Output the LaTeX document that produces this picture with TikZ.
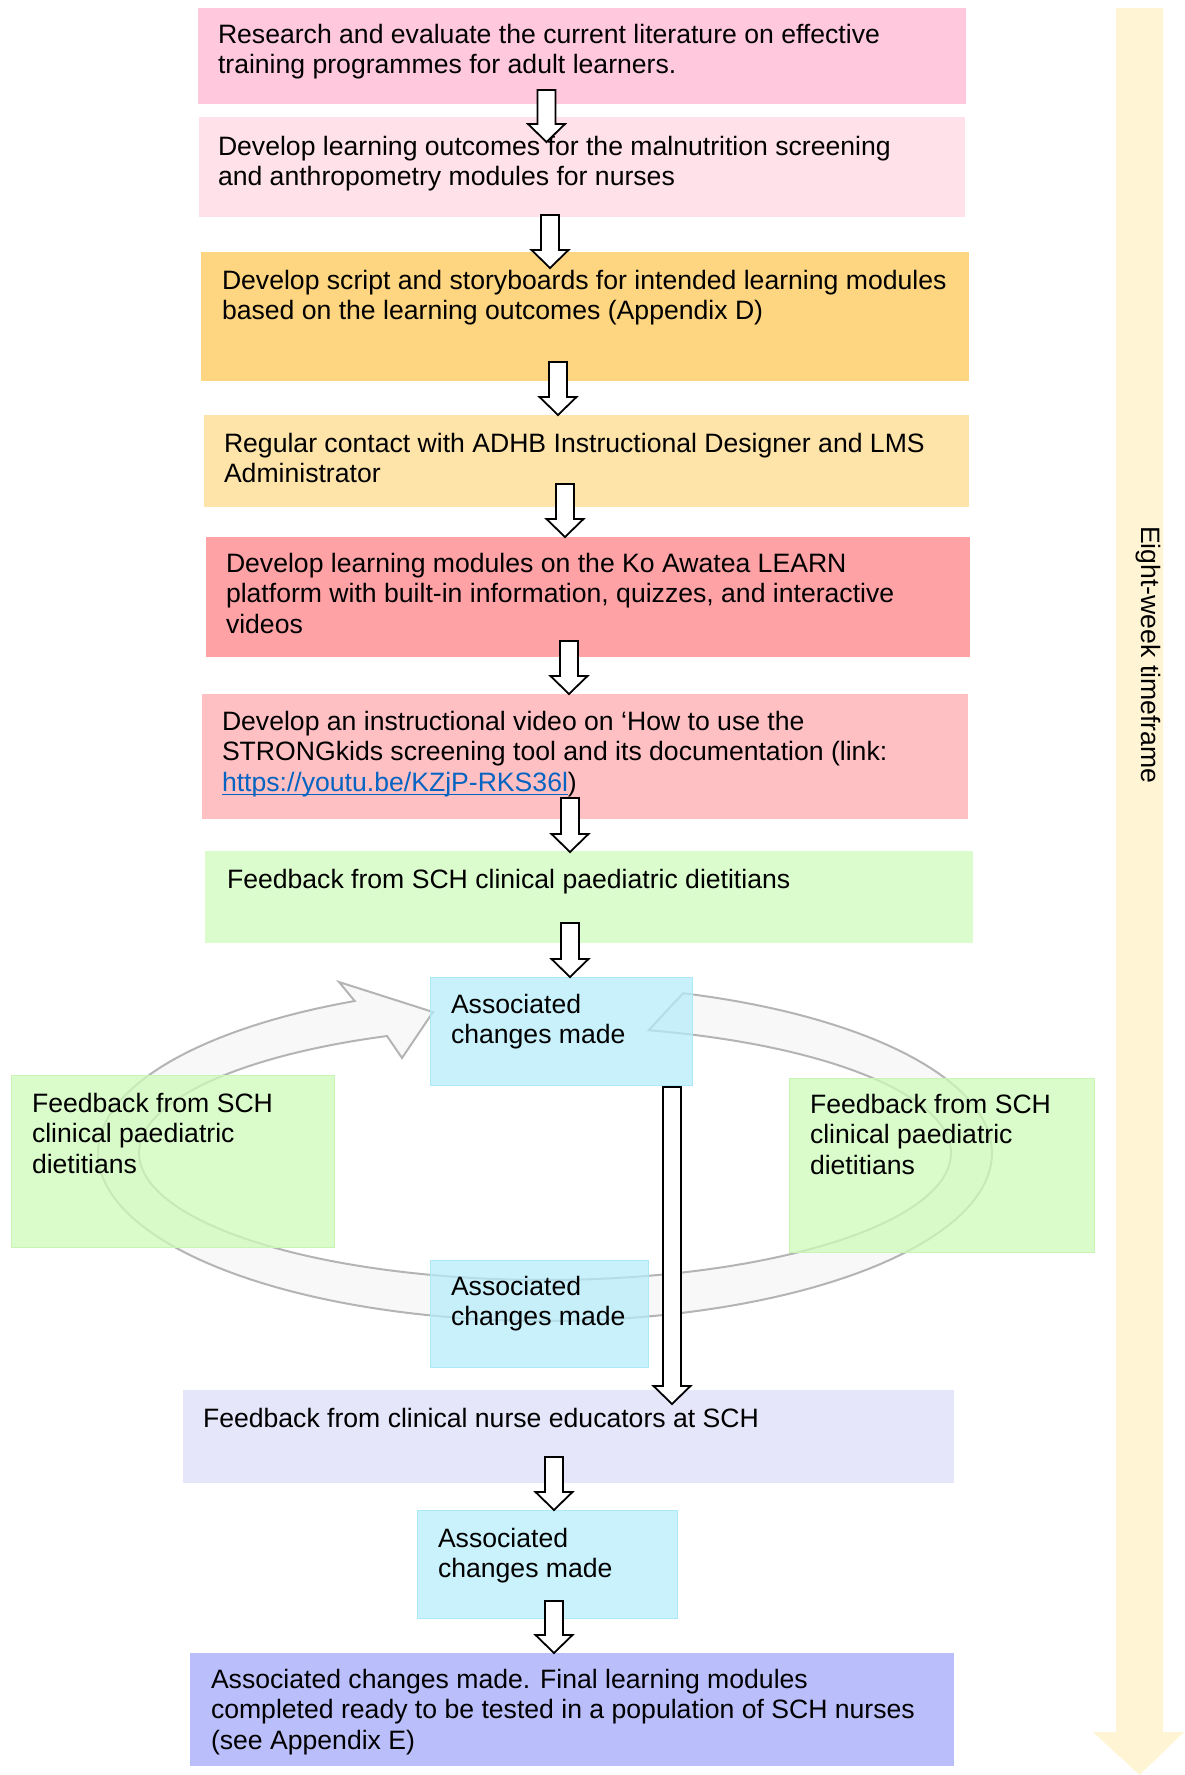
\documentclass[tikz,border=0pt]{standalone}
\usepackage{fontspec}
\setmainfont{Liberation Sans}
\usetikzlibrary{calc}

% box fills
\definecolor{cResearch}{HTML}{FFC8DC}
\definecolor{cOutcomes}{HTML}{FFE1EA}
\definecolor{cScript}{HTML}{FED580}
\definecolor{cContact}{HTML}{FFE4AA}
\definecolor{cModules}{HTML}{FFA2A6}
\definecolor{cVideo}{HTML}{FFC0C4}
\definecolor{cFeedback}{HTML}{DBFCCC}
\definecolor{cFeedbackT}{HTML}{CEFBBA}
\definecolor{cChanges}{HTML}{C9F2FC}
\definecolor{cChangesT}{HTML}{B6ECFA}
\definecolor{cChangesEdge}{HTML}{ABE9F9}
\definecolor{cFeedbackEdge}{HTML}{C8F5B4}
\definecolor{cEducators}{HTML}{E6E6FB}
\definecolor{cFinal}{HTML}{BABEFA}
\definecolor{cTime}{HTML}{FFF5D4}
\definecolor{cLink}{HTML}{0563C1}
\definecolor{cRing}{HTML}{F8F8F8}
\definecolor{cRingEdge}{HTML}{B4B4B4}

% strut that fixes the height of a first text line
\newcommand\lnstrut{\rule{0pt}{20pt}}
% underlined hyperlink text
\newcommand\weblink[1]{\setbox0\hbox{#1}{\color{cLink}\rlap{\rule[-4pt]{\wd0}{1.4pt}}\box0}}

\begin{document}
\begin{tikzpicture}[x=1pt, y=-1pt,
  box/.style={rectangle, inner sep=0pt, outer sep=0pt, anchor=north west},
  seethrough/.style={fill opacity=0.75, text opacity=1},
  txt/.style={anchor=north west, inner sep=0pt, outer sep=0pt, align=left,
    font=\fontsize{26.6pt}{30.5pt}\selectfont},
  ring/.style={fill=cRing, draw=cRingEdge, line width=2pt, line join=miter},
  blockarrow/.style={draw=black, fill=white, line width=1.8pt, line join=miter,
    to path={let \p1=(\tikztostart), \p2=(\tikztotarget) in
      (\x1-9pt,\y1) -- (\x1+9pt,\y1) -- (\x1+9pt,\y2+18pt) -- (\x1+18.5pt,\y2+18pt)
      -- (\x1,\y2) -- (\x1-18.5pt,\y2+18pt) -- (\x1-9pt,\y2+18pt) -- cycle}},
]
\useasboundingbox (0,0) rectangle (1184,1775);

% time line at the right
\fill[cTime] (1116,8) -- (1163,8) -- (1163,1732) -- (1184,1732) -- (1139.5,1775)
  -- (1093,1732) -- (1116,1732) -- cycle;
\node[anchor=base west, inner sep=0pt, rotate=-90,
  font=\fontsize{26.6pt}{30.5pt}\selectfont] (tf) at (1141,526) {Eight-week timeframe};

% main sequence of boxes
\node[box, fill=cResearch, minimum width=768pt, minimum height=96pt]  (b1) at (198,8) {};
\node[box, fill=cOutcomes, minimum width=766pt, minimum height=100pt] (b2) at (199,117) {};
\node[box, fill=cScript,   minimum width=768pt, minimum height=129pt] (b3) at (201,252) {};
\node[box, fill=cContact,  minimum width=765pt, minimum height=92pt]  (b4) at (204,415) {};
\node[box, fill=cModules,  minimum width=764pt, minimum height=120pt] (b5) at (206,537) {};
\node[box, fill=cVideo,    minimum width=766pt, minimum height=125pt] (b6) at (202,694) {};
\node[box, fill=cFeedback, minimum width=768pt, minimum height=92pt]  (b7) at (205,851) {};
\node[box, fill=cEducators, minimum width=771pt, minimum height=93pt] (b12) at (183,1390) {};
\node[box, fill=cChanges, draw=cChangesEdge, line width=1pt,
  minimum width=260pt, minimum height=108pt] (b13) at (417,1510) {};
\node[box, fill=cFinal,    minimum width=764pt, minimum height=113pt] (b14) at (190,1653) {};

% review cycle ring
\draw[ring]
  plot[domain=72:-244.8, samples=160, variable=\t] ({545+447*cos(\t)}, {1153-168*sin(\t)})
  -- (339,982) -- (433,1012) -- (402,1058)
  -- plot[domain=-247.1:75.2, samples=160, variable=\t] ({545+406*cos(\t)}, {1153-127*sin(\t)})
  -- cycle;

% boxes on the ring
\node[box, seethrough, fill=cChangesT, draw=cChangesEdge, line width=1pt,
  minimum width=262pt, minimum height=108pt] (b8) at (430,977) {};
\node[box, seethrough, fill=cFeedbackT, draw=cFeedbackEdge, line width=1pt,
  minimum width=323pt, minimum height=172pt] (b9) at (11,1075) {};
\node[box, seethrough, fill=cFeedbackT, draw=cFeedbackEdge, line width=1pt,
  minimum width=305pt, minimum height=174pt] (b10) at (789,1078) {};
\node[box, seethrough, fill=cChangesT, draw=cChangesEdge, line width=1pt,
  minimum width=218pt, minimum height=107pt] (b11) at (430,1260) {};

% box texts
\node[txt] (t1) at (218,23) {\lnstrut Research and evaluate the current literature on effective\\training programmes for adult learners.};
\node[txt] (t2) at (218,135) {\lnstrut Develop learning outcomes for the malnutrition screening\\and anthropometry modules for nurses};
\node[txt] (t3) at (222,269) {\lnstrut Develop script and storyboards for intended learning modules\\based on the learning outcomes (Appendix D)};
\node[txt] (t4) at (224,432) {\lnstrut Regular contact with ADHB Instructional Designer and LMS\\Administrator};
\node[txt] (t5) at (226,552) {\lnstrut Develop learning modules on the Ko Awatea LEARN\\platform with built-in information, quizzes, and interactive\\videos};
\node[txt] (t6) at (222,710) {\lnstrut Develop an instructional video on ‘How to use the\\STRONGkids screening tool and its documentation (link:\\\weblink{https://youtu.be/KZjP-RKS36l})};
\node[txt] (t7) at (227,868) {\lnstrut Feedback from SCH clinical paediatric dietitians};
\node[txt] (t8) at (451,993) {\lnstrut Associated\\changes made};
\node[txt] (t9) at (32,1092) {\lnstrut Feedback from SCH\\clinical paediatric\\dietitians};
\node[txt] (t10) at (810,1093) {\lnstrut Feedback from SCH\\clinical paediatric\\dietitians};
\node[txt] (t11) at (451,1275) {\lnstrut Associated\\changes made};
\node[txt] (t12) at (203,1407) {\lnstrut Feedback from clinical nurse educators at SCH};
\node[txt] (t13) at (438,1527) {\lnstrut Associated\\changes made};
\node[txt] (t14) at (211,1668) {\lnstrut Associated changes made. Final learning modules\\completed ready to be tested in a population of SCH nurses\\(see Appendix E)};

% block arrows between steps
\draw[blockarrow] ([xshift=-35.5pt, yshift=14pt]b1.south) to ([xshift=-35.5pt, yshift=-25pt]b2.north);
\draw[blockarrow] ([xshift=-32pt, yshift=2pt]b2.south)    to ([xshift=-35pt, yshift=-16pt]b3.north);
\draw[blockarrow] ([xshift=-27pt, yshift=19pt]b3.south)   to ([xshift=-28.5pt]b4.north);
\draw[blockarrow] ([xshift=-21.5pt, yshift=23pt]b4.south) to ([xshift=-23pt]b5.north);
\draw[blockarrow] ([xshift=-19pt, yshift=16pt]b5.south)   to ([xshift=-16pt]b6.north);
\draw[blockarrow] ([xshift=-15pt, yshift=21pt]b6.south)   to ([xshift=-19pt, yshift=-1pt]b7.north);
\draw[blockarrow] ([xshift=-19pt, yshift=20pt]b7.south)   to ([xshift=9pt]b8.north);
\draw[blockarrow] ([xshift=111pt, yshift=-2pt]b8.south)   to ([xshift=103.5pt, yshift=-14pt]b12.north);
\draw[blockarrow] ([xshift=-14.5pt, yshift=26pt]b12.south) to ([xshift=7pt]b13.north);
\draw[blockarrow] ([xshift=7pt, yshift=17pt]b13.south)    to ([xshift=-18pt]b14.north);
\end{tikzpicture}
\end{document}
